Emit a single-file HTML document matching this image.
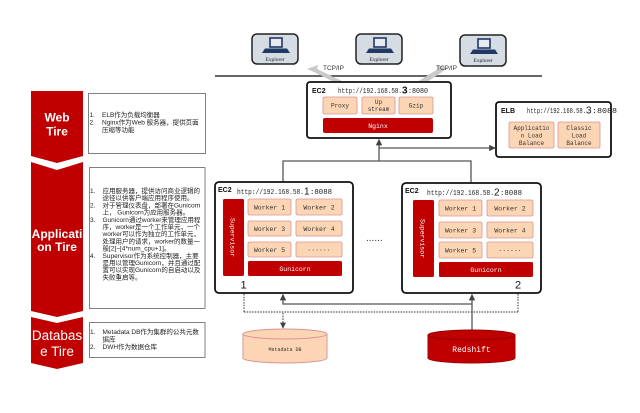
<!DOCTYPE html>
<html><head><meta charset="utf-8"><style>
html,body{margin:0;padding:0;background:#fff;}
svg{display:block;}
.cn{font-family:"Liberation Sans","Noto Sans CJK SC",sans-serif;font-size:6.5px;fill:#222;}
.mono{font-family:"Liberation Mono",monospace;}
</style></head><body>
<svg width="640" height="413" viewBox="0 0 640 413" xmlns="http://www.w3.org/2000/svg">
<defs>
<marker id="ah" viewBox="0 0 10 10" refX="9" refY="5" markerWidth="5" markerHeight="5" orient="auto-start-reverse"><path d="M0,0 L10,5 L0,10 z" fill="#444"/></marker>
</defs>
<!-- left red chevrons -->
<polygon points="31,91 83,91 83,156 57,163 31,156" fill="#c00000"/>
<polygon points="31,162 57,170 83,162 83,311 57,317 31,311" fill="#c00000"/>
<polygon points="31,317 57,323 83,317 83,363 57,369 31,363" fill="#c00000"/>
<g font-family="Liberation Sans, sans-serif" fill="#fff" text-anchor="middle">
<text x="57" y="121.5" font-size="12" font-weight="bold">Web</text>
<text x="57" y="135.5" font-size="12" font-weight="bold">Tire</text>
<text x="57" y="238" font-size="12" font-weight="bold">Applicati</text>
<text x="57" y="251" font-size="12" font-weight="bold">on Tire</text>
<text x="57" y="340" font-size="13.5">Databas</text>
<text x="57" y="356" font-size="13.5">e Tire</text>
</g>
<!-- left text boxes -->
<rect x="88.5" y="93.5" width="117" height="60" fill="#fff" stroke="#808080" stroke-width="1"/>
<rect x="89.5" y="167.5" width="115.5" height="141" fill="#fff" stroke="#808080" stroke-width="1"/>
<rect x="89.5" y="322.5" width="115.5" height="35" fill="#fff" stroke="#808080" stroke-width="1"/>
<g class="cn">
<text x="89.5" y="117">1.</text><text x="102" y="117">ELB作为负载均衡器</text>
<text x="89.5" y="124.5">2.</text><text x="102" y="124.5">Nginx作为Web 服务器，提供页面</text>
<text x="102" y="132">压缩等功能</text>

<text x="90" y="193">1.</text><text x="102.5" y="193">应用服务器，提供访问商业逻辑的</text>
<text x="102.5" y="200.2">途径以供客户端应用程序使用。</text>
<text x="90" y="207.4">2.</text><text x="102.5" y="207.4">对于管理仪表盘，部署在Gunicorn</text>
<text x="102.5" y="214.6">上， Gunicorn为应用服务器。</text>
<text x="90" y="221.8">3.</text><text x="102.5" y="221.8">Gunicorn通过worker来管理应用程</text>
<text x="102.5" y="229">序，worker是一个工作单元，一个</text>
<text x="102.5" y="236.2">worker可以作为独立的工作单元，</text>
<text x="102.5" y="243.4">处理用户的请求，worker的数量一</text>
<text x="102.5" y="250.6">般[2]~[4*num_cpu+1]。</text>
<text x="90" y="257.8">4.</text><text x="102.5" y="257.8">Supervisor作为系统控制器，主要</text>
<text x="102.5" y="265">是用以管理Gunicorn，并且通过配</text>
<text x="102.5" y="272.2">置可以实现Gunicorn的自启动以及</text>
<text x="102.5" y="279.4">失败重启等。</text>

<text x="90" y="334">1.</text><text x="102.5" y="334">Metadata DB作为集群的公共元数</text>
<text x="102.5" y="341.5">据库</text>
<text x="90" y="349">2.</text><text x="102.5" y="349">DWH作为数据仓库</text>
</g>

<!-- explorers -->
<g>
<rect x="252" y="34" width="46" height="30" rx="5" fill="#d6dce4" stroke="#222" stroke-width="1.5"/>
<rect x="270" y="38" width="12" height="9" fill="#e8ecf2" stroke="#1f3864" stroke-width="1.6"/>
<polygon points="262,53 290,53 287,48.5 265,48.5" fill="#1f3864"/>
<text x="275" y="61" font-family="Liberation Serif, serif" font-size="5.5" text-anchor="middle" fill="#222">Explorer</text>

<rect x="356" y="34" width="46" height="30" rx="5" fill="#d6dce4" stroke="#222" stroke-width="1.5"/>
<rect x="374" y="38" width="12" height="9" fill="#e8ecf2" stroke="#1f3864" stroke-width="1.6"/>
<polygon points="366,53 394,53 391,48.5 369,48.5" fill="#1f3864"/>
<text x="379" y="61" font-family="Liberation Serif, serif" font-size="5.5" text-anchor="middle" fill="#222">Explorer</text>

<rect x="460" y="35" width="46" height="31" rx="5" fill="#d6dce4" stroke="#222" stroke-width="1.5"/>
<rect x="478" y="39" width="12" height="9" fill="#e8ecf2" stroke="#1f3864" stroke-width="1.6"/>
<polygon points="470,54 498,54 495,49.5 473,49.5" fill="#1f3864"/>
<text x="483" y="62" font-family="Liberation Serif, serif" font-size="5.5" text-anchor="middle" fill="#222">Explorer</text>
</g>

<!-- network line -->
<line x1="215" y1="76" x2="542" y2="76" stroke="#333" stroke-width="1.5"/>
<!-- TCP/IP wedges -->
<polygon points="307,69 318,65 317,69 344,82 334,82 314,72" fill="#c9c9c9"/>
<polygon points="448,68 437,65 438,69 417,82 427,82 442,72" fill="#c9c9c9"/>
<text x="323" y="70" font-family="Liberation Sans, sans-serif" font-size="6.5" fill="#333">TCP/IP</text>
<text x="436" y="70" font-family="Liberation Sans, sans-serif" font-size="6.5" fill="#333">TCP/IP</text>

<!-- EC2 top -->
<rect x="307" y="82" width="144" height="56" rx="3" fill="#fff" stroke="#111" stroke-width="1.8"/>
<text x="312" y="93" font-family="Liberation Sans, sans-serif" font-size="7" font-weight="bold" fill="#111">EC2</text>
<text x="338" y="93" class="mono" font-size="7" fill="#222" textLength="64" lengthAdjust="spacingAndGlyphs">http://192.168.58.</text>
<text x="402" y="93.5" font-family="Liberation Sans, sans-serif" font-size="10" font-weight="bold" fill="#111">3</text>
<text x="408" y="93" class="mono" font-size="7" fill="#222" textLength="20" lengthAdjust="spacingAndGlyphs">:8080</text>
<g fill="#fcd5b4" stroke="#d99594" stroke-width="0.8">
<rect x="323" y="97" width="34" height="17" rx="1.5"/>
<rect x="362" y="97" width="33" height="17" rx="1.5"/>
<rect x="399" y="97" width="34" height="17" rx="1.5"/>
</g>
<g class="mono" font-size="6" fill="#333" text-anchor="middle">
<text x="340" y="107.5">Proxy</text>
<text x="378.5" y="104">Up</text>
<text x="378.5" y="111">stream</text>
<text x="416" y="107.5">Gzip</text>
</g>
<rect x="323" y="118" width="110" height="15" rx="2" fill="#c00000"/>
<text x="378" y="128" class="mono" font-size="6.5" fill="#fff" text-anchor="middle">Nginx</text>

<!-- ELB -->
<rect x="496" y="102" width="115" height="55" rx="3" fill="#fff" stroke="#111" stroke-width="1.8"/>
<text x="501" y="113" font-family="Liberation Sans, sans-serif" font-size="7" font-weight="bold" fill="#111">ELB</text>
<text x="527" y="113" class="mono" font-size="7" fill="#222" textLength="59" lengthAdjust="spacingAndGlyphs">http://192.168.58.</text>
<text x="586" y="113.5" font-family="Liberation Sans, sans-serif" font-size="10" fill="#111">3</text>
<text x="592" y="113" class="mono" font-size="7" fill="#222" textLength="25" lengthAdjust="spacingAndGlyphs">:8088</text>
<g fill="#fcd5b4" stroke="#d99594" stroke-width="0.8">
<rect x="509" y="122" width="45" height="26" rx="1.5"/>
<rect x="558" y="122" width="42" height="26" rx="1.5"/>
</g>
<g class="mono" font-size="6" fill="#333" text-anchor="middle">
<text x="531.5" y="130">Applicatio</text>
<text x="531.5" y="137.5">n Load</text>
<text x="531.5" y="145">Balance</text>
<text x="579" y="130">Classic</text>
<text x="579" y="137.5">Load</text>
<text x="579" y="145">Balance</text>
</g>

<!-- connectors top -->
<g stroke="#555" stroke-width="1.3" fill="none">
<line x1="379" y1="161" x2="379" y2="139.5" marker-end="url(#ah)"/>
<line x1="379" y1="148" x2="495" y2="148" marker-end="url(#ah)"/>
<line x1="283" y1="161" x2="471" y2="161"/>
<line x1="283" y1="160.4" x2="283" y2="182"/>
<line x1="471" y1="160.4" x2="471" y2="183"/>
</g>

<!-- EC2 1 -->
<rect x="215" y="182" width="138" height="111" rx="4" fill="#fff" stroke="#111" stroke-width="1.8"/>
<text x="218" y="192" font-family="Liberation Sans, sans-serif" font-size="7" font-weight="bold" fill="#111">EC2</text>
<text x="237" y="194" class="mono" font-size="7" fill="#222" textLength="67" lengthAdjust="spacingAndGlyphs">http://192.168.58.</text>
<text x="304" y="194.5" font-family="Liberation Sans, sans-serif" font-size="10" fill="#111">1</text>
<text x="310" y="194" class="mono" font-size="7" fill="#222" textLength="22" lengthAdjust="spacingAndGlyphs">:8088</text>
<rect x="223" y="199" width="21" height="77" rx="1.5" fill="#c00000"/>
<text transform="translate(230.5,237.5) rotate(90)" class="mono" font-size="6.5" fill="#fff" text-anchor="middle">Supervisor</text>
<g fill="#fcd5b4" stroke="#d99594" stroke-width="0.8">
<rect x="248" y="199" width="43" height="16" rx="1.5"/>
<rect x="296" y="199" width="46" height="16" rx="1.5"/>
<rect x="248" y="221" width="43" height="15" rx="1.5"/>
<rect x="296" y="221" width="46" height="15" rx="1.5"/>
<rect x="248" y="242" width="43" height="15" rx="1.5"/>
<rect x="296" y="242" width="46" height="15" rx="1.5"/>
</g>
<g class="mono" font-size="6.5" fill="#333" text-anchor="middle">
<text x="269.5" y="209.5">Worker 1</text>
<text x="319" y="209.5">Worker 2</text>
<text x="269.5" y="231">Worker 3</text>
<text x="319" y="231">Worker 4</text>
<text x="269.5" y="252">Worker 5</text>
<text x="319" y="250.5">......</text>
</g>
<rect x="248" y="261" width="94" height="15" rx="1.5" fill="#c00000"/>
<text x="295" y="271" class="mono" font-size="6.5" fill="#fff" text-anchor="middle">Gunicorn</text>
<text x="240.5" y="288.5" font-family="Liberation Sans, sans-serif" font-size="11" fill="#111">1</text>

<text x="366" y="241" font-family="Liberation Sans, sans-serif" font-size="10" fill="#333">......</text>

<!-- EC2 2 -->
<rect x="402" y="183" width="139" height="110" rx="4" fill="#fff" stroke="#111" stroke-width="1.8"/>
<text x="405" y="193" font-family="Liberation Sans, sans-serif" font-size="7" font-weight="bold" fill="#111">EC2</text>
<text x="427" y="195" class="mono" font-size="7" fill="#222" textLength="67" lengthAdjust="spacingAndGlyphs">http://192.168.58.</text>
<text x="494" y="195.5" font-family="Liberation Sans, sans-serif" font-size="10" fill="#111">2</text>
<text x="500" y="195" class="mono" font-size="7" fill="#222" textLength="22" lengthAdjust="spacingAndGlyphs">:8088</text>
<rect x="413" y="200" width="21" height="77" rx="1.5" fill="#c00000"/>
<text transform="translate(420.5,238.5) rotate(90)" class="mono" font-size="6.5" fill="#fff" text-anchor="middle">Supervisor</text>
<g fill="#fcd5b4" stroke="#d99594" stroke-width="0.8">
<rect x="439" y="200" width="43" height="16" rx="1.5"/>
<rect x="487" y="200" width="46" height="16" rx="1.5"/>
<rect x="439" y="222" width="43" height="16" rx="1.5"/>
<rect x="487" y="222" width="46" height="16" rx="1.5"/>
<rect x="439" y="242" width="43" height="16" rx="1.5"/>
<rect x="487" y="242" width="46" height="16" rx="1.5"/>
</g>
<g class="mono" font-size="6.5" fill="#333" text-anchor="middle">
<text x="460.5" y="210.5">Worker 1</text>
<text x="510" y="210.5">Worker 2</text>
<text x="460.5" y="232.5">Worker 3</text>
<text x="510" y="232.5">Worker 4</text>
<text x="460.5" y="252.5">Worker 5</text>
<text x="510" y="251">......</text>
</g>
<rect x="439" y="262" width="94" height="15" rx="1.5" fill="#c00000"/>
<text x="486" y="272" class="mono" font-size="6.5" fill="#fff" text-anchor="middle">Gunicorn</text>
<text x="515" y="288.5" font-family="Liberation Sans, sans-serif" font-size="11" fill="#111">2</text>

<!-- bottom connectors -->
<g stroke="#555" stroke-width="1.3" fill="none">
<line x1="283" y1="304.6" x2="283" y2="294.5" marker-end="url(#ah)"/>
<line x1="283" y1="304" x2="472" y2="304"/>
<line x1="472" y1="333" x2="472" y2="294.5" marker-end="url(#ah)"/>
</g>
<g stroke="#555" stroke-width="1.2" fill="none" stroke-dasharray="1.5 1.2">
<line x1="244" y1="294" x2="244" y2="312"/>
<line x1="244" y1="312" x2="518" y2="312"/>
<line x1="518" y1="294" x2="518" y2="312"/>
<line x1="283" y1="313" x2="283" y2="328" marker-end="url(#ah)"/>
</g>

<!-- Metadata DB cylinder -->
<path d="M243,334 L243,358 A42,5 0 0,0 327,358 L327,334" fill="#fcd5b4" stroke="#d99594" stroke-width="1"/>
<ellipse cx="285" cy="334" rx="42" ry="5" fill="#fcd5b4" stroke="#d99594" stroke-width="1"/>
<text x="285" y="351" class="mono" font-size="5" fill="#333" text-anchor="middle">Metadata DB</text>

<!-- Redshift cylinder -->
<path d="M428,335 L428,358 A43.5,5 0 0,0 515,358 L515,335" fill="#c00000" stroke="#a00000" stroke-width="1"/>
<ellipse cx="471.5" cy="335" rx="43.5" ry="5" fill="#c00000" stroke="#900000" stroke-width="1"/>
<text x="471.5" y="352" class="mono" font-size="8" fill="#fff" text-anchor="middle">Redshift</text>
</svg>
</body></html>
